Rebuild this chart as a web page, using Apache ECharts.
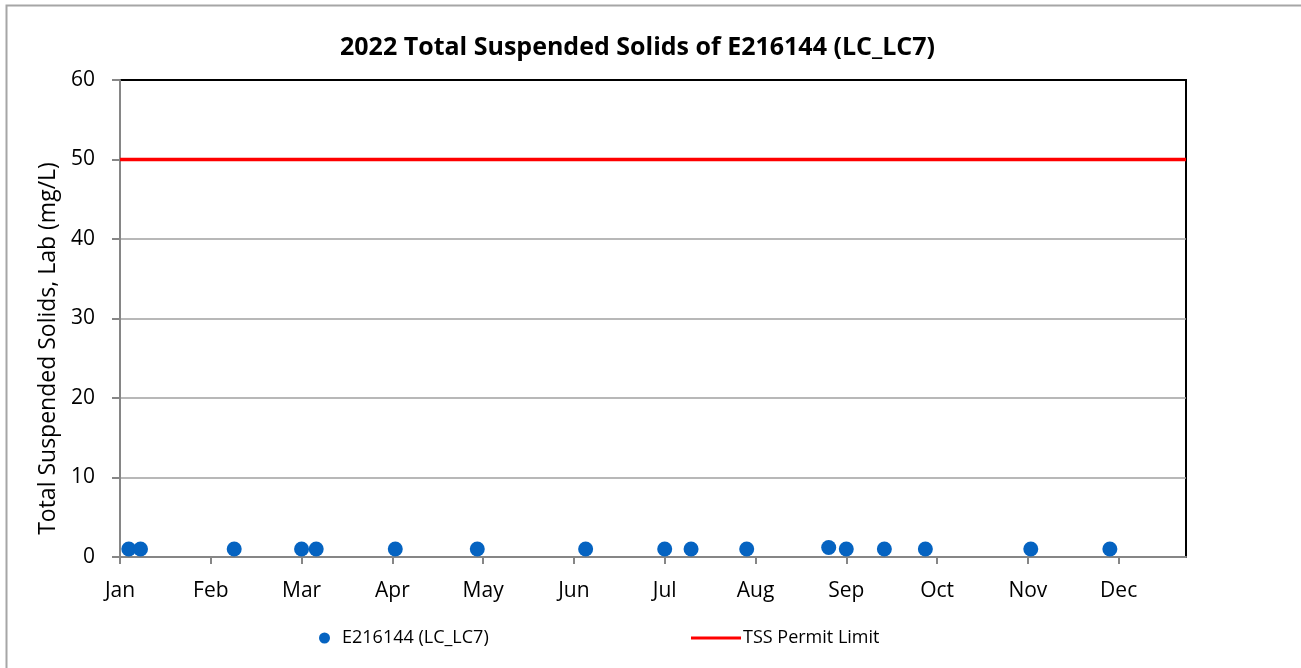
<!DOCTYPE html>
<html>
<head>
<meta charset="utf-8">
<script src="https://cdn.jsdelivr.net/npm/echarts@6/dist/echarts.min.js"></script>
<style>
  html, body { margin: 0; padding: 0; background: #fff; }
  #main { width: 1301px; height: 668px; }
</style>
</head>
<body>
<div id="main"></div>
<script>
var chart = echarts.init(document.getElementById('main'));

// sample dates and lab TSS values (mg/L)
var sampleDates = ['2022-01-04', '2022-01-08', '2022-02-09', '2022-03-04', '2022-03-09',
                   '2022-04-05', '2022-05-03', '2022-06-09', '2022-07-06', '2022-07-15',
                   '2022-08-03', '2022-08-31', '2022-09-06', '2022-09-19', '2022-10-03',
                   '2022-11-08', '2022-12-05'];
var tssValues = [1, 1, 1, 1, 1,
                 1, 1, 1, 1, 1,
                 1, 1.2, 1, 1, 1,
                 1, 1];
var permitLimit = 50;
var monthNames = ['Jan', 'Feb', 'Mar', 'Apr', 'May', 'Jun', 'Jul', 'Aug', 'Sep', 'Oct', 'Nov', 'Dec'];

var DAY = 86400000;
var yearStart = Date.UTC(2022, 0, 1);
var axisEnd = 364; // days from Jan 1

function dayOf(s) {
    var p = s.split('-');
    return (Date.UTC(+p[0], +p[1] - 1, +p[2]) - yearStart) / DAY;
}

var scatterData = [];
for (var i = 0; i < sampleDates.length; i++) {
    scatterData.push([dayOf(sampleDates[i]), tssValues[i]]);
}

var font = '"Open Sans", sans-serif';

var option = {
    backgroundColor: '#fff',
    animation: false,
    title: {
        text: '2022 Total Suspended Solids of E216144 (LC_LC7)',
        left: 335,
        top: 30,
        textStyle: { fontFamily: font, fontSize: 25, fontWeight: 'bold', color: '#000' }
    },
    graphic: [{
        type: 'rect',
        shape: { x: 6.5, y: 5.5, width: 1400, height: 800 },
        style: { fill: 'none', stroke: '#a6a6a6', lineWidth: 2 },
        silent: true
    }],
    legend: [{
        data: ['E216144 (LC_LC7)'],
        left: 314,
        top: 624,
        icon: 'circle',
        itemWidth: 11,
        itemHeight: 11,
        textStyle: { fontFamily: font, fontSize: 18, color: '#000', padding: [0, 0, 0, 7] }
    }, {
        data: ['TSS Permit Limit'],
        left: 686,
        top: 624,
        icon: 'rect',
        itemWidth: 50,
        itemHeight: 3,
        textStyle: { fontFamily: font, fontSize: 18, color: '#000', padding: [0, 0, 0, -3] }
    }],
    grid: {
        left: 120,
        right: 115,
        top: 80,
        bottom: 111,
        show: true,
        borderColor: '#000',
        borderWidth: 2,
        backgroundColor: 'transparent'
    },
    xAxis: {
        type: 'value',
        min: 0,
        max: axisEnd,
        interval: 31,
        splitLine: { show: false },
        axisLine: { lineStyle: { color: '#868686', width: 2 } },
        axisTick: { show: true, length: 7, lineStyle: { color: '#868686', width: 2 } },
        axisLabel: {
            showMaxLabel: false,
            margin: 24,
            fontFamily: font,
            fontSize: 21,
            color: '#000',
            formatter: function (v) {
                return monthNames[new Date(yearStart + v * DAY).getUTCMonth()];
            }
        }
    },
    yAxis: {
        type: 'value',
        min: 0,
        max: 60,
        interval: 10,
        name: 'Total Suspended Solids, Lab (mg/L)',
        nameLocation: 'middle',
        nameGap: 60,
        nameTextStyle: { fontFamily: font, fontSize: 23, color: '#000', padding: [0, 60, 0, 0] },
        splitLine: { show: true, showMaxLine: false, lineStyle: { color: '#a0a0a0', width: 1.5 } },
        axisLine: { show: true, lineStyle: { color: '#868686', width: 2 } },
        axisTick: { show: true, length: 8, lineStyle: { color: '#868686', width: 2 } },
        axisLabel: { margin: 25, fontFamily: font, fontSize: 21, color: '#000' }
    },
    series: [{
        name: 'E216144 (LC_LC7)',
        type: 'scatter',
        symbol: 'circle',
        symbolSize: 15,
        itemStyle: { color: '#0563c1', opacity: 1 },
        data: scatterData,
        z: 4
    }, {
        name: 'TSS Permit Limit',
        type: 'line',
        symbol: 'none',
        lineStyle: { color: '#ff0000', width: 3.5 },
        itemStyle: { color: '#ff0000' },
        data: [[0, permitLimit], [axisEnd, permitLimit]],
        z: 3
    }]
};

chart.setOption(option);
</script>
</body>
</html>
